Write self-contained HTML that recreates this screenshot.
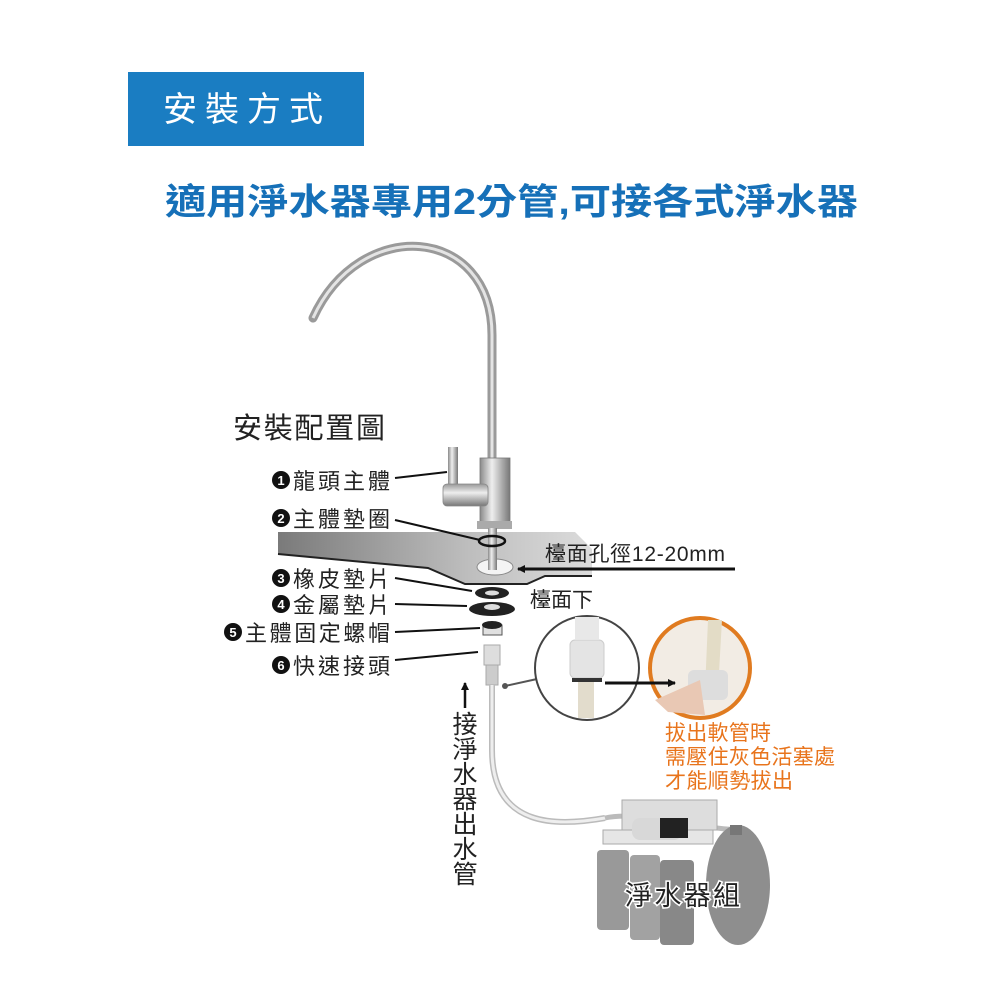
<!DOCTYPE html>
<html><head><meta charset="utf-8"><style>
html,body{margin:0;padding:0;background:#fff;}
svg{display:block;}
text{font-family:"Liberation Sans","Noto Sans CJK TC",sans-serif;}
</style></head><body>
<svg width="1000" height="1000" viewBox="0 0 1000 1000" xmlns="http://www.w3.org/2000/svg">
<defs>
<linearGradient id="ct" x1="0" x2="1" y1="0" y2="0"><stop offset="0" stop-color="#7a7a7a"/><stop offset="0.6" stop-color="#bdbdbd"/><stop offset="1" stop-color="#dcdcdc"/></linearGradient>
<linearGradient id="steel" x1="0" x2="1"><stop offset="0" stop-color="#8a8a8a"/><stop offset="0.4" stop-color="#eee"/><stop offset="1" stop-color="#777"/></linearGradient>
<linearGradient id="steelv" x1="0" x2="0" y1="0" y2="1"><stop offset="0" stop-color="#999"/><stop offset="0.4" stop-color="#eee"/><stop offset="1" stop-color="#777"/></linearGradient>
<marker id="ah" markerWidth="8" markerHeight="8" refX="7" refY="4" orient="auto" markerUnits="userSpaceOnUse"><path d="M0,0 L8,4 L0,8 z" fill="#111"/></marker>
</defs>
<rect x="128" y="72" width="236" height="74" fill="#1a7dc2"/>
<text x="163" y="121" font-size="34" fill="#fff" textLength="160">安裝方式</text>
<text x="165" y="214" font-size="36" font-weight="bold" fill="#1670b8" textLength="693" lengthAdjust="spacingAndGlyphs">適用淨水器專用2分管,可接各式淨水器</text>

<!-- faucet -->
<path d="M492,462 L492,335 C492,225 360,215 313,318" fill="none" stroke="#9a9a9a" stroke-width="9" stroke-linecap="round"/>
<path d="M492,462 L492,335 C492,225 360,215 313,318" fill="none" stroke="#e4e4e4" stroke-width="3"/>
<rect x="480" y="458" width="30" height="70" fill="url(#steel)" stroke="#777" stroke-width="0.8"/>
<rect x="448" y="447" width="10" height="42" fill="url(#steel)"/>
<rect x="443" y="484" width="45" height="22" rx="4" fill="url(#steelv)" stroke="#888" stroke-width="0.8"/>
<rect x="477" y="521" width="35" height="8" fill="#aaa"/>

<text x="233" y="438" font-size="29" fill="#222" textLength="152">安裝配置圖</text>

<!-- countertop -->
<path d="M278,532 L575,532 L592,549 L592,576 L545,576 L527,584 L465,584 L428,568 L278,554 Z" fill="url(#ct)"/>
<path d="M278,554 L428,568 L465,584 L527,584 L545,576 L592,576" fill="none" stroke="#222" stroke-width="2"/>
<ellipse cx="495" cy="567" rx="18" ry="8" fill="#f4f4f4" stroke="#888"/>
<rect x="488" y="528" width="9" height="42" fill="url(#steel)"/>
<ellipse cx="492" cy="541" rx="13" ry="5" fill="none" stroke="#111" stroke-width="2.5"/>
<line x1="735" y1="569" x2="518" y2="569" stroke="#111" stroke-width="3" marker-end="url(#ah)"/>
<text x="545" y="561" font-size="21" fill="#222" textLength="180">檯面孔徑12-20mm</text>
<text x="530" y="607" font-size="21" fill="#222">檯面下</text>

<!-- parts -->
<ellipse cx="492" cy="593" rx="17" ry="6" fill="#222"/><ellipse cx="492" cy="593" rx="7" ry="2.5" fill="#ddd"/>
<ellipse cx="492" cy="609" rx="23" ry="7" fill="#222"/><ellipse cx="492" cy="607" rx="8" ry="3" fill="#ddd"/>
<rect x="483" y="625" width="19" height="10" fill="#e0e0e0" stroke="#555"/><ellipse cx="492" cy="625" rx="10" ry="4" fill="#222"/>
<rect x="484" y="645" width="16" height="20" fill="#ddd" stroke="#aaa"/>
<rect x="486" y="665" width="12" height="20" fill="#ccc" stroke="#aaa"/>

<!-- labels -->
<g font-size="22" fill="#222">
<circle cx="281" cy="480" r="9" fill="#111"/><text x="281" y="485" font-size="13" fill="#fff" text-anchor="middle" font-weight="bold">1</text>
<text x="293" y="489" textLength="97">龍頭主體</text>
<line x1="395" y1="478" x2="447" y2="472" stroke="#111" stroke-width="2"/>
<circle cx="281" cy="518" r="9" fill="#111"/><text x="281" y="523" font-size="13" fill="#fff" text-anchor="middle" font-weight="bold">2</text>
<text x="293" y="527" textLength="97">主體墊圈</text>
<line x1="395" y1="520" x2="480" y2="540" stroke="#111" stroke-width="2"/>
<circle cx="281" cy="578" r="9" fill="#111"/><text x="281" y="583" font-size="13" fill="#fff" text-anchor="middle" font-weight="bold">3</text>
<text x="293" y="587" textLength="97">橡皮墊片</text>
<line x1="395" y1="578" x2="472" y2="591" stroke="#111" stroke-width="2"/>
<circle cx="281" cy="604" r="9" fill="#111"/><text x="281" y="609" font-size="13" fill="#fff" text-anchor="middle" font-weight="bold">4</text>
<text x="293" y="613" textLength="97">金屬墊片</text>
<line x1="395" y1="604" x2="467" y2="606" stroke="#111" stroke-width="2"/>
<circle cx="233" cy="632" r="9" fill="#111"/><text x="233" y="637" font-size="13" fill="#fff" text-anchor="middle" font-weight="bold">5</text>
<text x="245" y="641" textLength="145">主體固定螺帽</text>
<line x1="395" y1="632" x2="480" y2="628" stroke="#111" stroke-width="2"/>
<circle cx="281" cy="665" r="9" fill="#111"/><text x="281" y="670" font-size="13" fill="#fff" text-anchor="middle" font-weight="bold">6</text>
<text x="293" y="674" textLength="97">快速接頭</text>
<line x1="395" y1="660" x2="478" y2="652" stroke="#111" stroke-width="2"/>
</g>

<!-- tube -->
<path d="M492,685 L492,750 C492,830 560,826 605,818" fill="none" stroke="#bbb" stroke-width="6"/>
<path d="M492,685 L492,750 C492,830 560,826 605,818" fill="none" stroke="#eee" stroke-width="3"/>
<line x1="465" y1="708" x2="465" y2="683" stroke="#111" stroke-width="2.5" marker-end="url(#ah)"/>
<g font-size="25" fill="#222" text-anchor="middle">
<text x="465" y="733">接</text><text x="465" y="758">淨</text><text x="465" y="783">水</text><text x="465" y="808">器</text><text x="465" y="833">出</text><text x="465" y="858">水</text><text x="465" y="883">管</text>
</g>

<!-- magnifiers -->
<line x1="505" y1="686" x2="537" y2="679" stroke="#555" stroke-width="2"/><circle cx="505" cy="686" r="3" fill="#555"/>
<circle cx="587" cy="668" r="52" fill="#fff" stroke="#444" stroke-width="2"/>
<rect x="575" y="617" width="24" height="22" fill="#e8e8e8"/>
<rect x="570" y="640" width="34" height="38" rx="5" fill="#e4e4e4" stroke="#ccc"/>
<rect x="572" y="678" width="30" height="4" fill="#333"/>
<rect x="578" y="682" width="16" height="36" fill="#e2dccc"/>
<circle cx="700" cy="668" r="50" fill="#f2ece4" stroke="#e07b20" stroke-width="4"/>
<path d="M708,620 L722,620 L718,690 L705,690 Z" fill="#e3dcc6"/>
<rect x="688" y="670" width="40" height="30" rx="6" fill="#ddd"/>
<path d="M655,700 L700,680 L705,715 L668,712 Z" fill="#e9c8b4"/>
<line x1="605" y1="683" x2="675" y2="683" stroke="#111" stroke-width="3" marker-end="url(#ah)"/>
<g font-size="21" fill="#e8741c">
<text x="665" y="740" textLength="106">拔出軟管時</text>
<text x="665" y="764" textLength="170">需壓住灰色活塞處</text>
<text x="665" y="788" textLength="128">才能順勢拔出</text>
</g>

<!-- purifier -->
<g>
<path d="M605,818 C640,810 700,830 745,830" fill="none" stroke="#bbb" stroke-width="5"/>
<rect x="622" y="800" width="95" height="30" fill="#ddd" stroke="#aaa"/>
<rect x="603" y="830" width="110" height="14" fill="#e6e6e6" stroke="#aaa"/>
<rect x="632" y="818" width="50" height="22" rx="8" fill="#d8d8d8"/>
<rect x="660" y="818" width="28" height="20" fill="#222"/>
<rect x="597" y="850" width="32" height="80" rx="4" fill="#999"/>
<rect x="630" y="855" width="30" height="85" rx="4" fill="#a2a2a2"/>
<rect x="660" y="860" width="34" height="85" rx="4" fill="#888"/>
<ellipse cx="738" cy="885" rx="32" ry="60" fill="#8e8e8e"/>
<rect x="730" y="825" width="12" height="10" fill="#777"/>
<text x="625" y="905" font-size="27" fill="#222" stroke="#fff" stroke-width="3" paint-order="stroke" textLength="115">淨水器組</text>
</g>
</svg>
</body></html>
